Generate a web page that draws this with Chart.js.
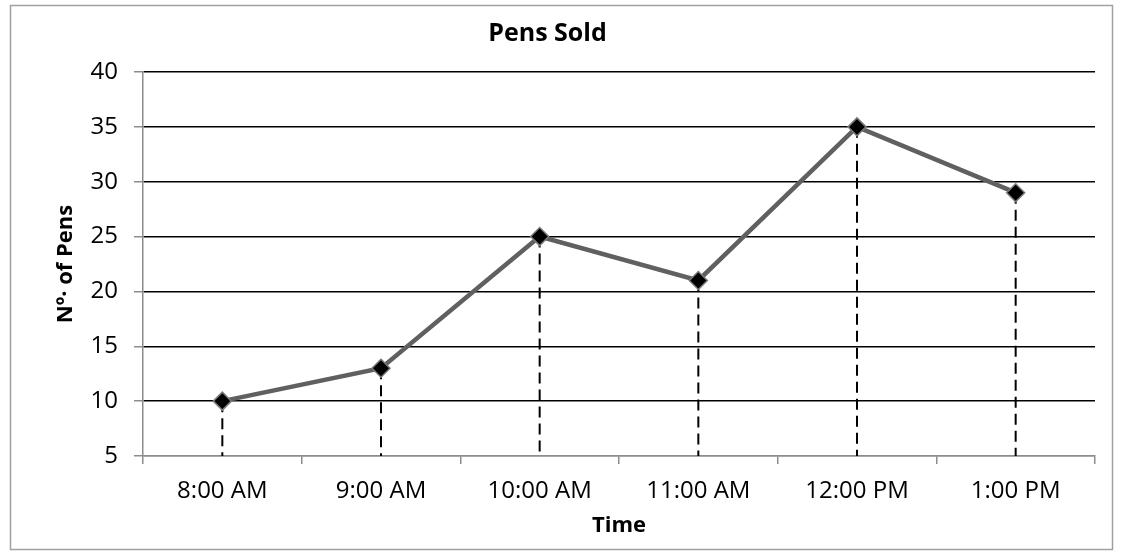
<!DOCTYPE html>
<html>
<head>
<meta charset="utf-8">
<script src="https://cdn.jsdelivr.net/npm/chart.js@4.4.1/dist/chart.umd.min.js"></script>
<style>
  html, body { margin: 0; padding: 0; background: #ffffff; }
  #wrap { position: relative; width: 1123px; height: 555px; }
</style>
</head>
<body>
<div id="wrap"><canvas id="c" width="1123" height="555"></canvas></div>
<script>
const categories = ['8:00 AM', '9:00 AM', '10:00 AM', '11:00 AM', '12:00 PM', '1:00 PM'];
const pensSold = [10, 13, 25, 21, 35, 29];
const yTicks = [5, 10, 15, 20, 25, 30, 35, 40];
const chartTitle = 'Pens Sold';
const xTitle = 'Time';
const yTitle = 'Nº· of Pens';

const FONT = "'Open Sans', 'Liberation Sans', sans-serif";

const frame = {
  id: 'frame',
  beforeDraw(chart) {
    const ctx = chart.ctx;
    ctx.save();
    ctx.fillStyle = '#ffffff';
    ctx.fillRect(0, 0, chart.width, chart.height);
    ctx.strokeStyle = '#a0a0a0';
    ctx.lineWidth = 1.5;
    ctx.strokeRect(10.5, 5.5, 1102, 544);
    ctx.restore();
  }
};

const dropLines = {
  id: 'dropLines',
  beforeDatasetsDraw(chart) {
    const ctx = chart.ctx;
    const meta = chart.getDatasetMeta(0);
    const yScale = chart.scales.y;
    const base = yScale.getPixelForValue(yScale.min);
    ctx.save();
    ctx.strokeStyle = '#000000';
    ctx.lineWidth = 2;
    ctx.setLineDash([11, 6]);
    meta.data.forEach(pt => {
      ctx.beginPath();
      ctx.moveTo(pt.x, pt.y);
      ctx.lineTo(pt.x, base);
      ctx.stroke();
    });
    ctx.restore();
  }
};

new Chart(document.getElementById('c'), {
  type: 'line',
  data: {
    labels: categories,
    datasets: [{
      data: pensSold,
      borderColor: '#606060',
      borderWidth: 4.5,
      pointStyle: 'rectRot',
      pointRadius: 9,
      pointHoverRadius: 9,
      pointBackgroundColor: '#000000',
      pointBorderColor: '#7a7a7a',
      pointBorderWidth: 1.5,
      tension: 0,
      fill: false
    }]
  },
  options: {
    responsive: false,
    animation: false,
    events: [],
    layout: { padding: { left: 0, right: 28, top: 0, bottom: 0 } },
    plugins: {
      legend: { display: false },
      tooltip: { enabled: false },
      title: {
        display: true,
        text: chartTitle,
        color: '#000000',
        font: { family: FONT, size: 25, weight: 'bold', lineHeight: 1.2 },
        padding: { top: 19, bottom: 23 }
      }
    },
    scales: {
      x: {
        offset: true,
        afterFit(scale) { scale.height = 99; },
        grid: {
          offset: true,
          drawOnChartArea: true,
          color: ctx => ctx.index === categories.length ? '#000000' : 'rgba(0,0,0,0)',
          tickColor: '#8c8c8c',
          tickLength: 8,
          lineWidth: 1.5
        },
        border: { color: '#8c8c8c', width: 1.5 },
        ticks: {
          color: '#000000',
          font: { family: FONT, size: 24 },
          padding: 13,
          maxRotation: 0
        },
        title: {
          display: true,
          text: xTitle,
          color: '#000000',
          font: { family: FONT, size: 22, weight: 'bold', lineHeight: 1.2 },
          padding: { top: 16, bottom: 16 }
        }
      },
      y: {
        min: yTicks[0],
        max: yTicks[yTicks.length - 1],
        afterFit(scale) { scale.width = 143; },
        afterBuildTicks(scale) { scale.ticks = yTicks.map(v => ({ value: v })); },
        grid: {
          color: ctx => ctx.index === 0 ? '#8c8c8c' : '#000000',
          tickColor: '#8c8c8c',
          tickLength: 9,
          lineWidth: 1.5
        },
        border: { color: '#8c8c8c', width: 1.5 },
        ticks: {
          color: '#000000',
          font: { family: FONT, size: 24 },
          padding: 16
        },
        title: {
          display: true,
          text: yTitle,
          color: '#000000',
          font: { family: FONT, size: 22, weight: 'bold', lineHeight: 1.2 },
          padding: { top: 53, bottom: 53 }
        }
      }
    }
  },
  plugins: [frame, dropLines]
});
</script>
</body>
</html>
